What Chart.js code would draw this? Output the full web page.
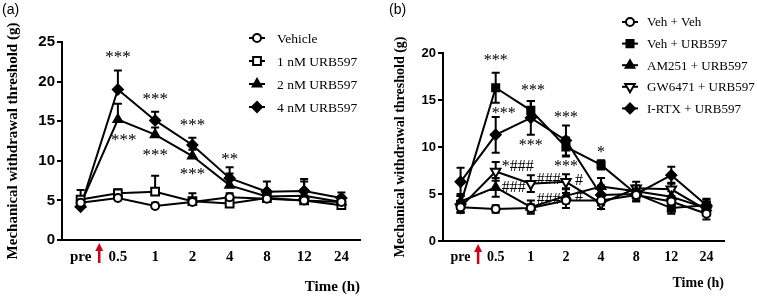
<!DOCTYPE html>
<html><head><meta charset="utf-8">
<script src="https://cdn.jsdelivr.net/npm/chart.js@4.4.1/dist/chart.umd.min.js"></script>
<style>
html,body{margin:0;padding:0;background:#fff;width:757px;height:297px;overflow:hidden;position:relative;}
#wa{position:absolute;left:0;top:0;width:378px;height:297px;}
#wb{position:absolute;left:378px;top:0;width:379px;height:297px;}
.lab{position:absolute;font:14px "Liberation Sans",Arial,sans-serif;color:#000;z-index:5;}
</style></head><body>
<div id="wa"><canvas id="ca" width="378" height="297"></canvas></div>
<div id="wb"><canvas id="cb" width="379" height="297"></canvas></div>
<div class="lab" style="left:2px;top:1px">(a)</div>
<div class="lab" style="left:389px;top:1px">(b)</div>
<script>
// ---------- data ----------
const timeLabels = ['pre', '0.5', '1', '2', '4', '8', '12', '24'];
const yTitle = 'Mechanical withdrawal threshold (g)';
const xTitle = 'Time (h)';

// Panel (a)
const aSeriesNames = ['Vehicle', '1 nM URB597', '2 nM URB597', '4 nM URB597'];
const aVehicle    = [4.7, 5.3, 4.3, 4.8, 5.4, 5.2, 5.0, 4.8];
const aVehicleErr = [0.5, 0.4, 0.4, 0.4, 0.5, 0.5, 0.5, 0.6];
const a1nM        = [5.1, 5.9, 6.1, 4.9, 4.6, 5.3, 5.0, 4.4];
const a1nMErr     = [1.2, 0.5, 2.0, 1.0, 0.5, 0.7, 0.6, 0.6];
const a2nM        = [4.5, 15.2, 13.3, 10.6, 6.9, 5.5, 5.6, 4.8];
const a2nMErr     = [1.0, 2.0, 0.9, 0.8, 1.5, 0.8, 1.8, 0.7];
const a4nM        = [4.2, 19.0, 15.1, 12.0, 7.8, 6.1, 6.2, 5.3];
const a4nMErr     = [0.9, 2.4, 1.1, 0.9, 1.4, 1.3, 1.5, 0.7];
const aNotes = [
  {x: 1,    y: 23.4, t: '***'},
  {x: 1.16, y: 12.9, t: '***'},
  {x: 2,    y: 18.1, t: '***'},
  {x: 2,    y: 11.1, t: '***'},
  {x: 3,    y: 14.8, t: '***'},
  {x: 3,    y: 8.7,  t: '***'},
  {x: 4,    y: 10.5, t: '**'}
];

// Panel (b)
const bSeriesNames = ['Veh + Veh', 'Veh + URB597', 'AM251 + URB597', 'GW6471 + URB597', 'I-RTX + URB597'];
const bVehVeh    = [3.6, 3.4, 3.5, 4.3, 4.3, 4.9, 4.2, 2.9];
const bVehVehErr = [0.5, 0.4, 0.4, 0.8, 0.5, 0.4, 0.5, 0.6];
const bVehURB    = [3.9, 16.3, 13.9, 10.0, 8.1, 5.0, 3.5, 3.8];
const bVehURBErr = [0.9, 1.6, 1.0, 1.0, 0.5, 0.8, 0.6, 0.6];
const bAM251     = [4.2, 5.7, 3.6, 4.8, 5.8, 5.3, 4.7, 3.5];
const bAM251Err  = [0.8, 1.0, 0.7, 0.8, 0.9, 0.6, 0.6, 0.6];
const bGW6471    = [3.6, 7.4, 6.1, 6.3, 4.0, 5.6, 5.5, 3.3];
const bGW6471Err = [0.6, 1.0, 0.9, 0.8, 0.6, 0.7, 0.7, 0.6];
const bIRTX      = [6.3, 11.3, 13.1, 10.7, 4.9, 5.0, 7.0, 3.8];
const bIRTXErr   = [1.5, 1.9, 1.8, 1.6, 1.0, 0.7, 0.9, 0.7];
const bNotes = [
  {x: 1,    y: 19.5, t: '***'},
  {x: 1.23, y: 13.9, t: '***'},
  {x: 2.06, y: 16.3, t: '***'},
  {x: 2,    y: 10.5, t: '***'},
  {x: 3,    y: 13.4, t: '***'},
  {x: 3,    y: 8.2,  t: '***'},
  {x: 4,    y: 9.7,  t: '*'},
  {x: 1.17, y: 8.2,  t: '*###', left: true},
  {x: 1.17, y: 6.0,  t: '###', left: true},
  {x: 2.17, y: 6.8,  t: '###', left: true},
  {x: 2.17, y: 4.7,  t: '###', left: true},
  {x: 3.26, y: 6.7,  t: '#', left: true},
  {x: 3.26, y: 5.0,  t: '#', left: true}
];

// ---------- plugins ----------
const errPlugin = {
  id: 'errbars',
  beforeDatasetsDraw(chart, args, opts) {
    const {ctx, scales: {x, y}} = chart;
    ctx.save();
    ctx.strokeStyle = '#000';
    ctx.lineWidth = opts.lineWidth;
    chart.data.datasets.forEach(ds => {
      ds.data.forEach((v, j) => {
        const e = ds.err[j];
        const px = x.getPixelForValue(j);
        const top = y.getPixelForValue(v + e);
        const bot = y.getPixelForValue(opts.both ? v - e : v);
        ctx.beginPath();
        ctx.moveTo(px, top); ctx.lineTo(px, bot);
        ctx.moveTo(px - opts.cap, top); ctx.lineTo(px + opts.cap, top);
        if (opts.both) { ctx.moveTo(px - opts.cap, bot); ctx.lineTo(px + opts.cap, bot); }
        ctx.stroke();
      });
    });
    ctx.restore();
  }
};

const extrasPlugin = {
  id: 'extras',
  afterDraw(chart, args, opts) {
    const {ctx, scales: {x, y}} = chart;
    ctx.save();
    // significance notes
    ctx.fillStyle = '#000';
    ctx.textBaseline = 'middle';
    opts.notes.forEach(n => {
      ctx.font = opts.noteFont;
      ctx.textAlign = n.left ? 'left' : 'center';
      ctx.fillText(n.t, x.getPixelForValue(n.x), y.getPixelForValue(n.y) + opts.noteShift);
    });
    // red arrow between pre and first time point
    const xm = (x.getPixelForValue(0) + x.getPixelForValue(1)) / 2;
    const b = y.bottom;
    ctx.strokeStyle = '#d0021b';
    ctx.fillStyle = '#d0021b';
    ctx.lineWidth = 2.5;
    ctx.beginPath(); ctx.moveTo(xm, b + 23); ctx.lineTo(xm, b + 9); ctx.stroke();
    ctx.beginPath(); ctx.moveTo(xm, b + 3); ctx.lineTo(xm - 4, b + 11); ctx.lineTo(xm + 4, b + 11); ctx.closePath(); ctx.fill();
    // legend
    const L = opts.legend;
    chart.data.datasets.forEach((ds, i) => {
      const yy = L.y + i * L.dy;
      ctx.strokeStyle = '#000'; ctx.lineWidth = 2;
      ctx.beginPath(); ctx.moveTo(L.x - L.half, yy); ctx.lineTo(L.x + L.half, yy); ctx.stroke();
      ctx.fillStyle = ds.pointBackgroundColor; ctx.strokeStyle = '#000'; ctx.lineWidth = ds.pointBorderWidth;
      Chart.helpers.drawPoint(ctx, {pointStyle: ds.pointStyle, radius: ds.pointRadius, rotation: ds.pointRotation || 0, borderWidth: ds.pointBorderWidth}, L.x, yy);
      ctx.fillStyle = '#000'; ctx.font = L.font; ctx.textAlign = 'left'; ctx.textBaseline = 'middle';
      ctx.fillText(ds.label, L.tx, yy + 1);
    });
    ctx.restore();
  }
};

function ds(label, data, err, style, radius, fill, rot) {
  return {
    label, data, err,
    borderColor: '#000', borderWidth: 2, tension: 0,
    pointStyle: style, pointRadius: radius, pointRotation: rot || 0,
    pointBackgroundColor: fill, pointBorderColor: '#000', pointBorderWidth: 2,
    pointHoverRadius: radius
  };
}

function makeChart(id, datasets, cfg) {
  return new Chart(document.getElementById(id), {
    type: 'line',
    data: {labels: timeLabels, datasets},
    options: {
      responsive: false, animation: false, devicePixelRatio: 1,
      layout: {padding: {left: 0, top: cfg.top, right: cfg.right, bottom: 0}},
      plugins: {
        legend: {display: false}, tooltip: {enabled: false},
        errbars: {lineWidth: 2, cap: 4, both: cfg.both},
        extras: {notes: cfg.notes, noteFont: cfg.noteFont, noteShift: cfg.noteShift, legend: cfg.legend}
      },
      scales: {
        x: {
          type: 'category', offset: true,
          afterFit: s => { s.height = cfg.xh; },
          grid: {display: true, drawOnChartArea: false, drawTicks: false, offset: false},
          border: {display: true, color: '#000', width: 2},
          ticks: {color: '#000', padding: cfg.xpad, maxRotation: 0, autoSkip: false,
                  font: {family: 'Liberation Serif', weight: 'bold', size: cfg.xtick}},
          title: {display: true, text: xTitle, align: 'end', color: '#000',
                  font: {family: 'Liberation Serif', weight: 'bold', size: cfg.xtitle},
                  padding: {top: 0, bottom: cfg.xtitlePad}}
        },
        y: {
          min: 0, max: cfg.ymax,
          afterFit: s => { s.width = cfg.yw; },
          grid: {display: true, drawOnChartArea: false, drawTicks: true, tickLength: 5, color: '#000', lineWidth: 2},
          border: {display: true, color: '#000', width: 2},
          ticks: {stepSize: 5, color: '#000', padding: 2,
                  font: {family: 'Liberation Sans', weight: 'bold', size: cfg.ytick}},
          title: {display: true, text: yTitle, color: '#000',
                  font: {family: 'Liberation Serif', weight: 'bold', size: cfg.ytitle},
                  padding: {top: cfg.ytitlePad, bottom: 0}}
        }
      }
    },
    plugins: [errPlugin, extrasPlugin]
  });
}

makeChart('ca', [
  ds(aSeriesNames[0], aVehicle, aVehicleErr, 'circle', 4, '#fff'),
  ds(aSeriesNames[1], a1nM, a1nMErr, 'rect', 5.5, '#fff'),
  ds(aSeriesNames[2], a2nM, a2nMErr, 'triangle', 5, '#000'),
  ds(aSeriesNames[3], a4nM, a4nMErr, 'rectRot', 5, '#000')
], {
  top: 42, right: 18, xh: 57, yw: 62, ymax: 25, both: false,
  xpad: 8, xtick: 15, xtitle: 15, xtitlePad: 1, ytick: 15, ytitle: 15, ytitlePad: 4,
  notes: aNotes, noteFont: '17px "Liberation Serif"', noteShift: 3,
  legend: {x: 257, tx: 277, y: 38, dy: 23, half: 8, font: '13.5px "Liberation Serif"'}
});

makeChart('cb', [
  ds(bSeriesNames[0], bVehVeh, bVehVehErr, 'circle', 4, '#fff'),
  ds(bSeriesNames[1], bVehURB, bVehURBErr, 'rect', 5, '#000'),
  ds(bSeriesNames[2], bAM251, bAM251Err, 'triangle', 5, '#000'),
  ds(bSeriesNames[3], bGW6471, bGW6471Err, 'triangle', 5.5, '#fff', 180),
  ds(bSeriesNames[4], bIRTX, bIRTXErr, 'rectRot', 5, '#000')
], {
  top: 53, right: 33, xh: 56, yw: 65, ymax: 20, both: true,
  xpad: 8, xtick: 14, xtitle: 14, xtitlePad: 5, ytick: 13, ytitle: 14, ytitlePad: 14,
  notes: bNotes, noteFont: '16px "Liberation Serif"', noteShift: 3,
  legend: {x: 252, tx: 269, y: 22, dy: 21.6, half: 8, font: '13px "Liberation Serif"'}
});
</script>
</body></html>
